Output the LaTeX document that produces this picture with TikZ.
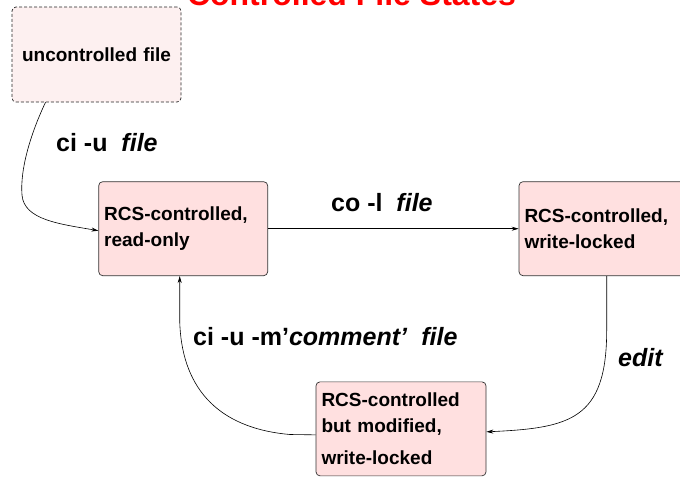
\documentclass[tikz,border=0pt]{standalone}
\usepackage{fontspec}
\setmainfont{Liberation Sans}
\usetikzlibrary{arrows.meta}
\definecolor{boxfill}{HTML}{FFE0E0}
\definecolor{boxfilllight}{HTML}{FDF0F0}
\definecolor{boxline}{HTML}{333333}
\begin{document}
\begin{tikzpicture}[x=1pt,y=-1pt,
  statebox/.style={draw=boxline, line width=0.7pt, rounded corners=4pt, fill=boxfill,
    minimum width=169pt, minimum height=94pt, text width=158pt, inner xsep=5.5pt,
    align=left, font=\bfseries\fontsize{19}{26}\selectfont},
  ghostbox/.style={statebox, draw=black!85, fill=boxfilllight, dash pattern=on 3pt off 2pt, align=center, minimum height=95pt},
  edgelabel/.style={anchor=base west, inner sep=0pt, font=\bfseries\fontsize{25}{30}\selectfont},
  conn/.style={line width=0.6pt, -{Stealth[length=7pt,width=4pt]}}]
\useasboundingbox (0,0) rectangle (680,477);

\node[anchor=base, inner sep=0pt, text=red, font=\bfseries\fontsize{32}{38}\selectfont] (title) at (351.5,5) {Controlled File States};

\node[ghostbox] (u) at (96.5,54.5) {uncontrolled file};
\node[statebox] (ro) at (183.2,228.7) {RCS-controlled,\\read-only};
\node[statebox] (wl) at (603.5,228.7) {RCS-controlled,\\write-locked};
\node[statebox, minimum width=170pt, text width=159pt] (mod) at (401,428.85) {RCS-controlled\\but modified,\\[6pt]write-locked};

% ci -u file
\draw[conn] ([xshift=-51pt]u.south) .. controls (30,135) and (20,170) .. (22,195)
  .. controls (24,220) and (60,224) .. ([yshift=-2pt]ro.west);
% co -l file
\draw[conn] (ro.east) -- (wl.west);
% edit
\draw[conn] ([xshift=3.2pt]wl.south) -- (606.7,330) .. controls (606.7,420) and (570,428) .. ([yshift=-3pt]mod.east);
% ci -u -m'comment' file
\draw[conn] ([yshift=-6pt]mod.west) -- (290,434.5) .. controls (215,428) and (181,385) .. (179.7,320) -- ([xshift=-3.5pt]ro.south);

\node[edgelabel] (l1) at (56,151) {ci -u\ \ \textit{file}};
\node[edgelabel] (l2) at (331,211) {co -l\ \ \textit{file}};
\node[edgelabel] (l3) at (193,345) {ci -u -m’\textit{comment’}\ \ \textit{file}};
\node[edgelabel] (l4) at (618,366.7) {\textit{edit}};
\end{tikzpicture}
\end{document}
